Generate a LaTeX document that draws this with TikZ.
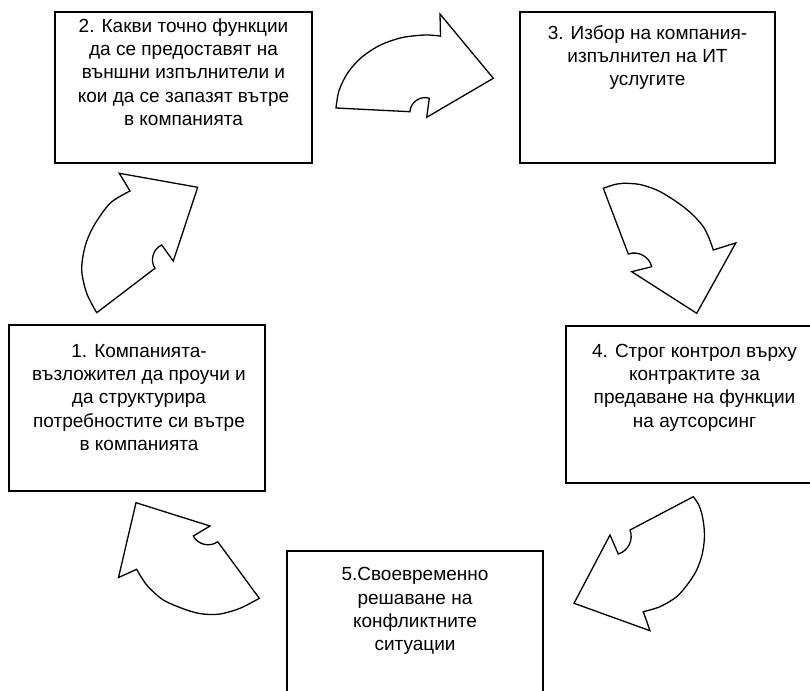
\documentclass[tikz,border=0pt]{standalone}
\usepackage{fontspec}
\setmainfont{Liberation Sans}
\begin{document}
\begin{tikzpicture}[x=1pt,y=-1pt,
  box/.style={draw, line width=1.3pt, rectangle, inner sep=0pt, outer sep=0pt},
  txt/.style={align=center, inner sep=0pt, font=\fontsize{19}{23.3}\selectfont},
  carrow/.style={draw, line width=1.3pt, fill=white, line join=miter}]
\useasboundingbox (0,0) rectangle (810,690);
\clip (0,0) rectangle (810,690);
% boxes
\node[box, minimum width=257pt, minimum height=151pt] (b2) at (183.5,87.5) {};
\node[box, minimum width=255pt, minimum height=151pt] (b3) at (647.5,87.5) {};
\node[box, minimum width=256pt, minimum height=166pt] (b1) at (137,408) {};
\node[box, minimum width=257pt, minimum height=157pt] (b4) at (694.5,404.5) {};
\node[box, minimum width=256pt, minimum height=157pt] (b5) at (415,629.5) {};
% texts
\node[txt] (t2) at (183.5,72) {2. Какви точно функции\\да се предоставят на\\външни изпълнители и\\кои да се запазят вътре\\в компанията};
\node[txt] (t3) at (647.5,57.5) {3. Избор на компания-\\изпълнител на ИТ\\услугите};
\node[txt] (t1) at (139,397.5) {1. Компанията-\\възложител да проучи и\\да структурира\\потребностите си вътре\\в компанията};
\node[txt] (t4) at (694.5,387.5) {4. Строг контрол върху\\контрактите за\\предаване на функции\\на аутсорсинг};
\node[txt] (t5) at (415,611) {5.Своевременно\\решаване на\\конфликтните\\ситуации};
% curved arrows
% 2 -> 3
\draw[carrow] plot[smooth] coordinates {(336,108) (339,90.6) (347.9,72.5) (362,57) (380.5,45) (402,37.6) (425,35) (440.5,36.1)}
  -- (440,14) -- (493.3,78.3) -- (426.7,117.3) -- (429.3,98.3) to[bend right=55] (410,111.7) -- cycle;
% 3 -> 4
\draw[carrow] plot[smooth] coordinates {(603.3,188.3) (613,185) (623.3,183.3) (640,184.5) (656.7,190) (670,197.5) (683.3,206.7) (694,216) (703.3,226.7) (709,238) (713.3,250)}
  -- (735.8,242.9) -- (696.7,313.3) -- (631.7,271.7) -- (651.7,266.7) to[bend right=48] (628.3,254) -- cycle;
% 4 -> 5
\draw[carrow] plot[smooth] coordinates {(693.3,496.7) (698.3,504) (701.7,513.3) (704,526.7) (704.3,540) (702,555) (696.7,570) (688.3,583.3) (676.7,596.7) (660,606.7) (643.3,611.7)}
  -- (650,630.7) -- (574,603.3) -- (610,535) -- (618.3,554) to[bend right=47] (630,530) -- cycle;
% 5 -> 1
\draw[carrow] plot[smooth] coordinates {(259.3,598.3) (240,608.3) (220,614) (203,614) (186.7,610) (163.3,600) (146.7,585) (136.7,569.3)}
  -- (118.5,577.5) -- (136,502.7) -- (210,526) -- (193.3,536) to[bend right=50] (217.7,541.7) -- cycle;
% 1 -> 2
\draw[carrow] plot[smooth] coordinates {(96.7,312.7) (86.7,293.3) (81.7,270) (85,246.7) (93.3,226.7) (110,203.3) (130,191)}
  -- (119.3,173.3) -- (197.7,187.3) -- (173.3,261) -- (161.7,245) to[bend right=50] (155,268.3) -- cycle;
\end{tikzpicture}
\end{document}
